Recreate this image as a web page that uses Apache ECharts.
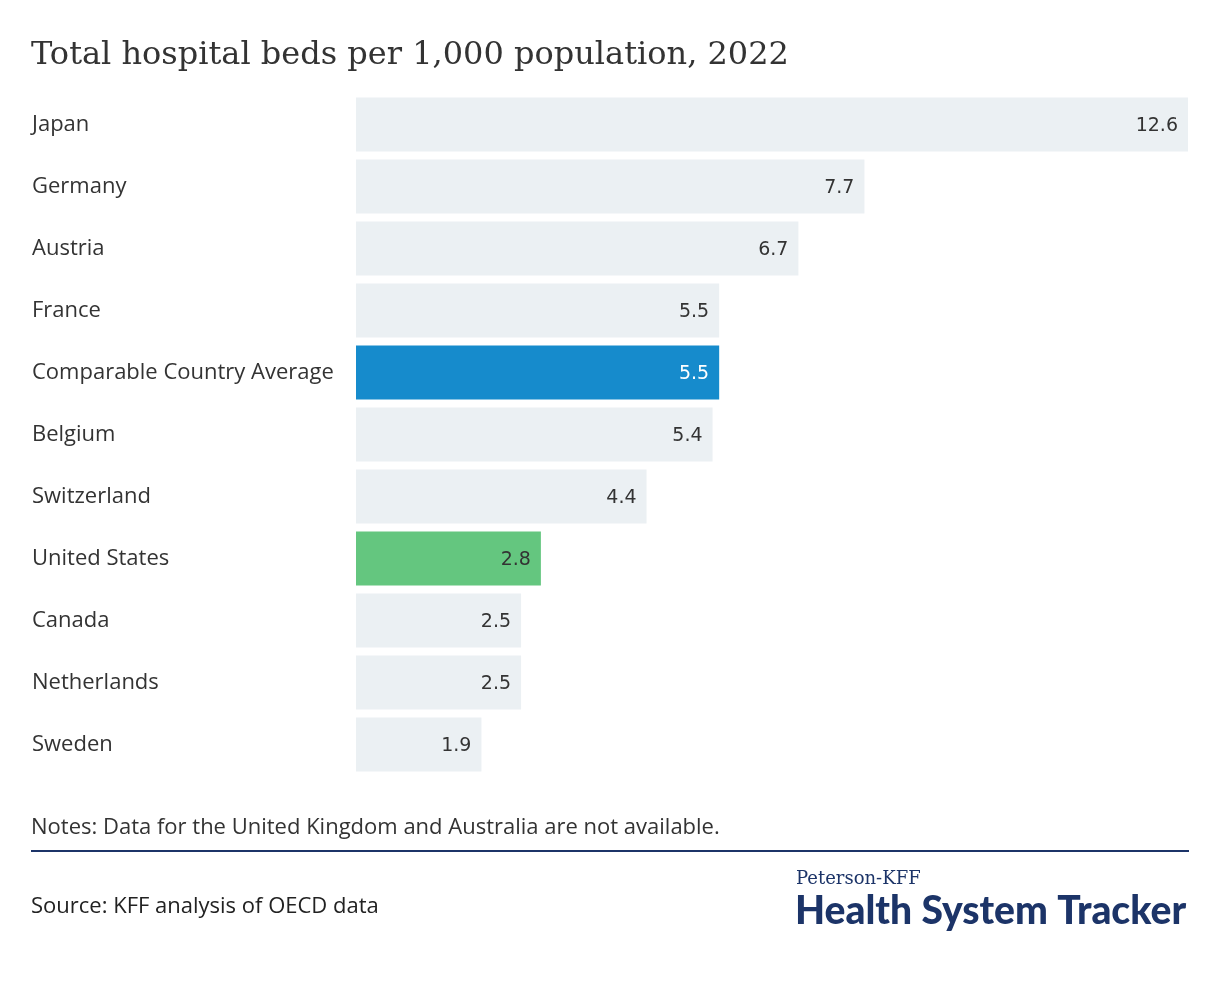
<!DOCTYPE html>
<html><head><meta charset="utf-8">
<script src="https://cdn.jsdelivr.net/npm/echarts@6/dist/echarts.min.js"></script>
<style>html,body{margin:0;padding:0;background:#fff}#c{width:1220px;height:988px}</style>
</head><body><div id="c"></div>
<script>
const categories = ["Japan","Germany","Austria","France","Comparable Country Average","Belgium","Switzerland","United States","Canada","Netherlands","Sweden"];
const values = [12.6,7.7,6.7,5.5,5.5,5.4,4.4,2.8,2.5,2.5,1.9];
const highlight = {"Comparable Country Average":"#168bcc","United States":"#64c67f"};
const labelColors = {"Comparable Country Average":"#ffffff"};
const title = "Total hospital beds per 1,000 population, 2022";
const notes = "Notes: Data for the United Kingdom and Australia are not available.";
const source = "Source: KFF analysis of OECD data";

const chart = echarts.init(document.getElementById('c'), null, {renderer:'canvas'});
chart.setOption({
  animation:false,
  title:{text:title,left:31,top:40,padding:0,textStyle:{fontFamily:"DejaVu Serif",fontWeight:'normal',fontSize:32,color:'#333'}},
  grid:{left:356,right:32,top:93.5,bottom:988-775.5},
  xAxis:{type:'value',min:0,max:12.6,show:false},
  yAxis:{type:'category',data:categories,inverse:true,
    axisLine:{show:false},axisTick:{show:false},
    axisLabel:{align:'left',margin:324,fontFamily:'Open Sans',fontSize:22,color:'#333',padding:[4,0,0,0]}},
  series:[{type:'bar',barCategoryGap:'13%',
    data:categories.map((c,i)=>({value:values[i],
      itemStyle:{color:highlight[c]||'#ebf0f3'},
      label:{color:labelColors[c]||'#333'}})),
    label:{show:true,position:'insideRight',distance:10,offset:[0,2],fontFamily:'DejaVu Sans',fontSize:19,formatter:p=>p.value.toFixed(1)}
  }],
  graphic:[
    {type:'text',left:31,top:817,style:{text:notes,fontFamily:'Open Sans',fontSize:22,fill:'#333'}},
    {type:'rect',shape:{x:31,y:850,width:1158,height:2},style:{fill:'#1c3468'}},
    {type:'text',left:31,top:896,style:{text:source,fontFamily:'Open Sans',fontSize:22,fill:'#222'}},
    {type:'text',left:796,top:870,style:{text:'Peterson-KFF',fontFamily:'DejaVu Serif',fontSize:18,fill:'#1c3468'}},
    {type:'text',left:795,top:892,style:{text:'Health System Tracker',fontFamily:'Lato',fontWeight:900,fontSize:39,fill:'#1c3468'}}
  ]
});
</script></body></html>
